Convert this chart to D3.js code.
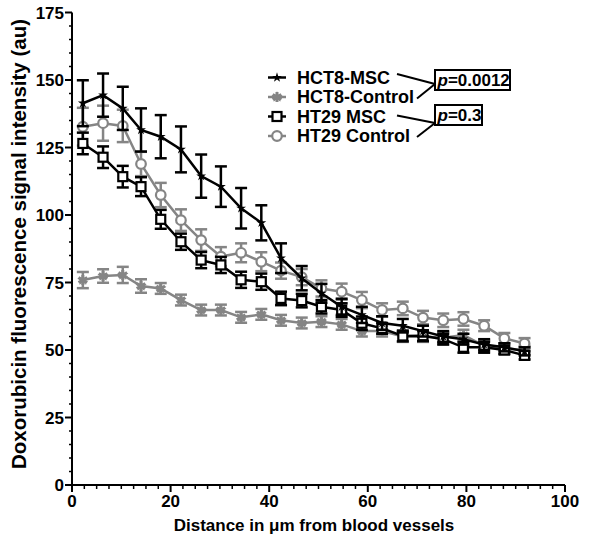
<!DOCTYPE html>
<html><head><meta charset="utf-8">
<script src="https://cdn.jsdelivr.net/npm/d3@7"></script>
<style>body{margin:0;background:#fff}svg{display:block}text{font-family:"Liberation Sans",Arial,sans-serif;font-weight:bold}</style>
</head><body><svg id="c" width="600" height="542"></svg>
<script>
const xs = [2.2, 6.3, 10.3, 14.0, 18.0, 22.1, 26.2, 30.2, 34.3, 38.4, 42.4, 46.6, 50.6, 54.7, 58.8, 62.9, 67.1, 71.2, 75.3, 79.4, 83.6, 87.7, 91.8];
const hct8Msc = [141.4, 144.4, 139.5, 131.5, 129, 124.3, 114.4, 110.5, 102.5, 97.1, 84, 76.6, 71, 66, 63, 60, 59, 57, 55, 54, 52, 51, 49.5];
const hct8MscErr = [8.5, 8, 8, 8, 8, 8.5, 8, 7.5, 7.5, 6.5, 5.5, 4.5, 3.5, 3, 3, 2.5, 2.5, 2, 2, 2, 2, 1.5, 1.5];
const hct8Ctl = [75.9, 77.4, 77.8, 73.7, 72.8, 68.5, 64.8, 64.8, 62.1, 63.2, 61, 60, 60.5, 59.5, 57, 57, 55, 55, 54.5, 55.5, 51.5, 50.5, 50];
const hct8CtlErr = [3, 2.5, 3, 2.5, 2, 2, 2, 2, 2, 2, 2, 2, 2, 2, 2, 2, 2, 2, 2, 2, 2, 2, 1.5];
const ht29Msc = [126.5, 121.4, 114.2, 110.5, 98.4, 90.1, 83.3, 81.5, 76, 75.3, 69.1, 68.3, 66, 64.8, 59.9, 58, 55.2, 55.3, 54, 51, 51, 50, 48];
const ht29MscErr = [4, 4, 4, 3.5, 3.5, 3, 3, 3, 3, 3, 2.5, 2.5, 2.5, 2.5, 2.5, 2, 2, 2, 2, 2, 2, 1.5, 1.5];
const ht29Ctl = [132.7, 134, 133, 118.9, 107.4, 98.1, 90.7, 84.6, 86, 82.7, 79.4, 77, 72.8, 71.6, 68.5, 64.8, 65.4, 62, 61, 61.5, 59, 54.3, 52.4];
const ht29CtlErr = [7, 6.5, 6, 4.5, 4.5, 4, 4, 3.5, 3.5, 3.5, 3, 3, 3, 3, 3, 2.5, 2.5, 2.5, 2.5, 2.5, 2, 2, 2];
const seriesNames = ["HCT8-MSC", "HCT8-Control", "HT29 MSC", "HT29 Control"];
const xTicks = [0, 20, 40, 60, 80, 100];
const yTicks = [0, 25, 50, 75, 100, 125, 150, 175];
const pLabels = ["0.0012", "0.3"];

const BLACK = "#000", GRAY = "#858585";
const svg = d3.select("#c");
const x = d3.scaleLinear().domain([0, 100]).range([72, 565]);
const y = d3.scaleLinear().domain([0, 175]).range([485, 12.5]);

// axes
const yAxis = svg.append("g").attr("transform", "translate(72,0)");
yAxis.append("line").attr("x1", 0).attr("x2", 0).attr("y1", y(175)).attr("y2", y(0)).attr("stroke", "#000").attr("stroke-width", 2);
d3.range(0, 176, 5).forEach(v => {
  const major = v % 25 === 0;
  yAxis.append("line").attr("x1", major ? -7 : -3).attr("x2", 0).attr("y1", y(v)).attr("y2", y(v)).attr("stroke", "#000").attr("stroke-width", major ? 2 : 1.5);
});
yAxis.selectAll("text.t").data(yTicks).join("text").attr("class", "t")
  .attr("x", -8).attr("y", d => y(d)).attr("dy", "0.36em").attr("text-anchor", "end")
  .attr("font-size", 17).text(d => d);

const xAxis = svg.append("g").attr("transform", "translate(0,485)");
xAxis.append("line").attr("x1", x(0)).attr("x2", x(100)).attr("y1", 0).attr("y2", 0).attr("stroke", "#000").attr("stroke-width", 2);
d3.range(0, 100.01, 2.5).forEach(v => {
  const major = Math.abs(v % 20) < 1e-6;
  xAxis.append("line").attr("x1", x(v)).attr("x2", x(v)).attr("y1", 0).attr("y2", major ? 7 : 4).attr("stroke", "#000").attr("stroke-width", major ? 2 : 1.5);
});
xAxis.selectAll("text.t").data(xTicks).join("text").attr("class", "t")
  .attr("x", d => x(d)).attr("y", 22).attr("text-anchor", "middle")
  .attr("font-size", 17).text(d => d);

svg.append("text").attr("transform", "translate(26,244) rotate(-90)").attr("text-anchor", "middle")
  .attr("font-size", 20.5).text("Doxorubicin fluorescence signal intensity (au)");
svg.append("text").attr("x", 314).attr("y", 531).attr("text-anchor", "middle")
  .attr("font-size", 17).text("Distance in μm from blood vessels");

// markers
function drawMarker(g, type, color, cx, cy) {
  if (type === "square") {
    g.append("rect").attr("x", cx - 4.5).attr("y", cy - 4.5).attr("width", 9).attr("height", 9)
      .attr("fill", "#fff").attr("stroke", color).attr("stroke-width", 2.2);
  } else if (type === "circle") {
    g.append("circle").attr("cx", cx).attr("cy", cy).attr("r", 4.8)
      .attr("fill", "#fff").attr("stroke", color).attr("stroke-width", 2.2);
  } else if (type === "star") {
    g.append("path").attr("d", d3.symbol(d3.symbolStar, 30)()).attr("transform", `translate(${cx},${cy})`)
      .attr("fill", color);
  } else if (type === "asterisk") {
    g.append("path").attr("d", d3.symbol(d3.symbolAsterisk, 70)()).attr("transform", `translate(${cx},${cy})`)
      .attr("fill", "none").attr("stroke", color).attr("stroke-width", 3);
    g.append("path").attr("d", d3.symbol(d3.symbolStar, 40)()).attr("transform", `translate(${cx},${cy})`)
      .attr("fill", color);
  }
}

const series = [
  {name: seriesNames[1], vals: hct8Ctl, err: hct8CtlErr, color: GRAY, marker: "asterisk"},
  {name: seriesNames[3], vals: ht29Ctl, err: ht29CtlErr, color: GRAY, marker: "circle"},
  {name: seriesNames[2], vals: ht29Msc, err: ht29MscErr, color: BLACK, marker: "square"},
  {name: seriesNames[0], vals: hct8Msc, err: hct8MscErr, color: BLACK, marker: "star"},
];
const line = d3.line().x((d, i) => x(xs[i])).y(d => y(d));
series.forEach(s => {
  const g = svg.append("g");
  s.vals.forEach((v, i) => {
    const cx = x(xs[i]), t = y(v + s.err[i]), b = y(v - s.err[i]);
    g.append("line").attr("x1", cx).attr("x2", cx).attr("y1", t).attr("y2", b).attr("stroke", s.color).attr("stroke-width", 2.5);
    g.append("line").attr("x1", cx - 6).attr("x2", cx + 6).attr("y1", t).attr("y2", t).attr("stroke", s.color).attr("stroke-width", 2.5);
    g.append("line").attr("x1", cx - 6).attr("x2", cx + 6).attr("y1", b).attr("y2", b).attr("stroke", s.color).attr("stroke-width", 2.5);
  });
  g.append("path").datum(s.vals).attr("d", line).attr("fill", "none").attr("stroke", s.color).attr("stroke-width", 2.5);
  s.vals.forEach((v, i) => drawMarker(g, s.marker, s.color, x(xs[i]), y(v)));
});

// legend
const legendOrder = [
  {name: seriesNames[0], color: BLACK, marker: "star"},
  {name: seriesNames[1], color: GRAY, marker: "asterisk"},
  {name: seriesNames[2], color: BLACK, marker: "square"},
  {name: seriesNames[3], color: GRAY, marker: "circle"},
];
const legY = [77.5, 97, 116.5, 136];
const lg = svg.append("g");
legendOrder.forEach((s, i) => {
  lg.append("line").attr("x1", 268).attr("x2", 286).attr("y1", legY[i]).attr("y2", legY[i]).attr("stroke", s.color).attr("stroke-width", 2.5);
  drawMarker(lg, s.marker, s.color, 277, legY[i]);
  lg.append("text").attr("x", 297).attr("y", legY[i]).attr("dy", "0.36em").attr("font-size", 18).text(s.name);
});
// p-value boxes
const boxes = [{x: 435, y: 70, w: 75, h: 20, p: pLabels[0], from: [[397, 74], [417, 98.5]], to: [435, 84]},
               {x: 435, y: 105, w: 47, h: 20, p: pLabels[1], from: [[397, 115.5], [417, 137]], to: [435, 123]}];
boxes.forEach(b => {
  lg.append("rect").attr("x", b.x).attr("y", b.y).attr("width", b.w).attr("height", b.h).attr("fill", "#fff").attr("stroke", "#000").attr("stroke-width", 2);
  const t = lg.append("text").attr("x", b.x + 2.5).attr("y", b.y + b.h / 2).attr("dy", "0.36em").attr("font-size", 17);
  t.append("tspan").attr("font-style", "italic").text("p");
  t.append("tspan").text("=" + b.p);
  b.from.forEach(f => lg.append("line").attr("x1", f[0]).attr("y1", f[1]).attr("x2", b.to[0]).attr("y2", b.to[1]).attr("stroke", "#000").attr("stroke-width", 2));
});
</script></body></html>
